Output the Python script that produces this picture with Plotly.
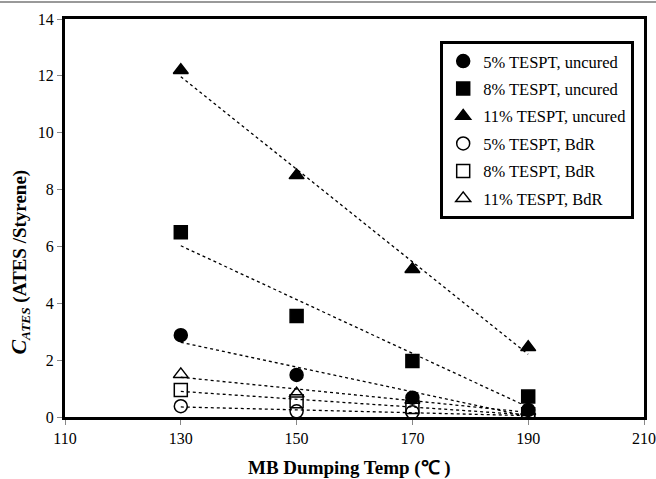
import numpy as np
import plotly.graph_objects as go

temps = [130, 150, 170, 190]
series_names = ["5% TESPT, uncured", "8% TESPT, uncured", "11% TESPT, uncured",
                "5% TESPT, BdR", "8% TESPT, BdR", "11% TESPT, BdR"]
uncured_5 = [2.88, 1.48, 0.68, 0.25]
uncured_8 = [6.5, 3.55, 1.97, 0.72]
uncured_11 = [12.2, 8.5, 5.2, 2.45]
bdr_5 = [0.38, 0.2, 0.17, 0.05]
bdr_8 = [0.95, 0.55, 0.35, 0.1]
bdr_11 = [1.5, 0.82, 0.6, 0.2]
x_ticks = [110, 130, 150, 170, 190, 210]
y_ticks = [0, 2, 4, 6, 8, 10, 12, 14]
x_title = "<b>MB Dumping Temp (℃ )</b>"
y_title = "<b><i><span style='font-size:22px'>C</span></i><sub><i>ATES</i></sub> (ATES /Styrene)</b>"

values = [uncured_5, uncured_8, uncured_11, bdr_5, bdr_8, bdr_11]
symbols = ["circle", "square", "triangle-up", "circle-open", "square-open", "triangle-up-open"]

fig = go.Figure()
FONT = "Liberation Serif"

# trend lines (linear fits)
for name, vals in zip(series_names, values):
    k, b = np.polyfit(temps, vals, 1)
    xs = [temps[0], temps[-1]]
    fig.add_trace(go.Scatter(x=xs, y=[k * v + b for v in xs], mode="lines",
                             line=dict(color="black", width=1.3, dash="dot"),
                             showlegend=False, hoverinfo="skip"))

for i, (name, vals, sym) in enumerate(zip(series_names, values, symbols)):
    fig.add_trace(go.Scatter(
        x=temps, y=vals, mode="markers", name=name, legendgroup=f"g{i}",
        marker=dict(symbol=sym, size=13, color="black",
                    line=dict(color="black", width=1.5)),
    ))

fig.update_layout(
    width=656, height=479,
    margin=dict(l=65, r=12, t=19, b=62),
    paper_bgcolor="white", plot_bgcolor="white",
    font=dict(family=FONT, size=16, color="black"),
    showlegend=True,
    legend=dict(x=0.648, y=0.945, xanchor="left", yanchor="top",
                bgcolor="white", bordercolor="black", borderwidth=3,
                font=dict(family=FONT, size=16.5, color="black"),
                traceorder="grouped", tracegroupgap=3,
                itemwidth=30),
    xaxis=dict(range=[110, 210], tickvals=x_ticks, showgrid=False, zeroline=False,
               automargin=False,
               showline=True, linecolor="black", linewidth=3, mirror=True,
               ticks="outside", ticklen=5, tickcolor="#888",
               tickfont=dict(family=FONT, size=16)),
    yaxis=dict(range=[0, 14], tickvals=y_ticks, showgrid=False, zeroline=False,
               automargin=False,
               showline=True, linecolor="black", linewidth=3, mirror=True,
               ticks="outside", ticklen=5, tickcolor="#888",
               tickfont=dict(family=FONT, size=16)),
)
fig.add_annotation(text=x_title, xref="paper", yref="paper", x=0.492, y=-0.128,
                   xanchor="center", yanchor="middle", showarrow=False,
                   font=dict(family=FONT, size=19, color="black"))
fig.add_annotation(text=y_title, xref="paper", yref="paper", x=-0.078, y=0.39,
                   xanchor="center", yanchor="middle", showarrow=False, textangle=-90,
                   font=dict(family=FONT, size=19, color="black"))
fig.add_shape(type="line", xref="paper", yref="paper", x0=-0.2, x1=1.1,
              y0=1.0 + 17 / 398, y1=1.0 + 17 / 398,
              line=dict(color="#999", width=2))

fig.write_html("out.html", config={"displayModeBar": False},
               post_script="document.body.style.margin='0';document.body.style.overflow='hidden';document.documentElement.style.overflow='hidden';")
